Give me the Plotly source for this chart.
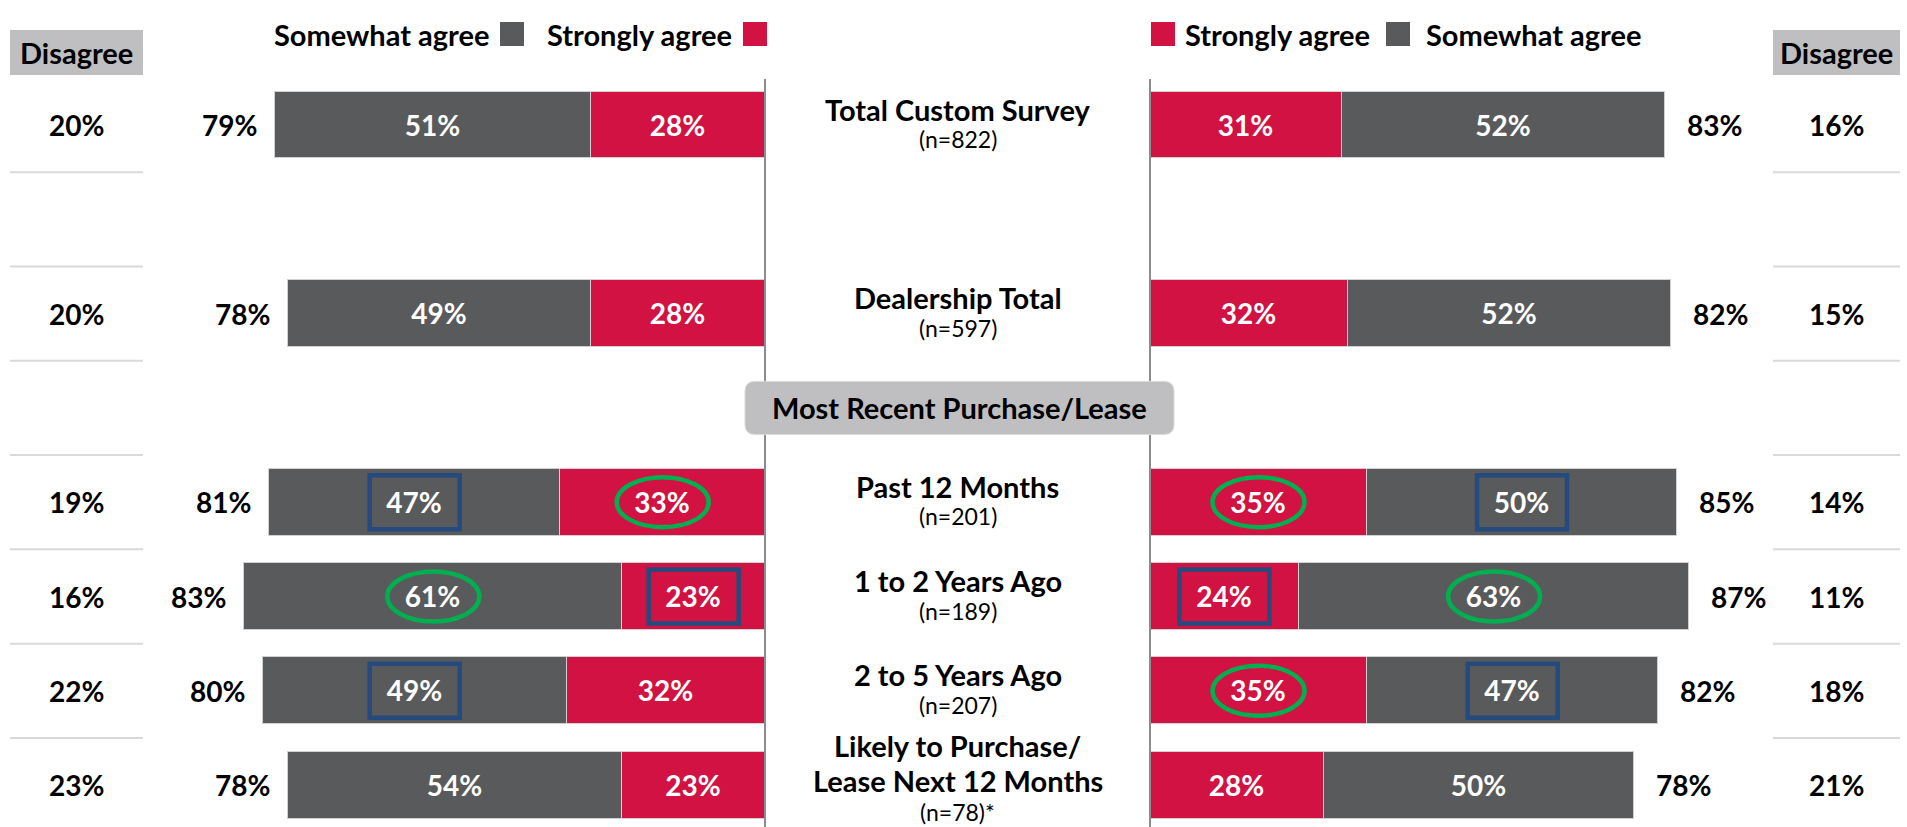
import plotly.graph_objects as go

W, H = 1907, 827

# ---------------- data ----------------
categories = ["Total Custom Survey", "Dealership Total", "Past 12 Months",
              "1 to 2 Years Ago", "2 to 5 Years Ago",
              "Likely to Purchase/<br>Lease Next 12 Months"]
sample_sizes = ["(n=822)", "(n=597)", "(n=201)", "(n=189)", "(n=207)", "(n=78)*"]

left_somewhat = [51, 49, 47, 61, 49, 54]
left_strongly = [28, 28, 33, 23, 32, 23]
left_total = [79, 78, 81, 83, 80, 78]
left_disagree = [20, 20, 19, 16, 22, 23]

right_strongly = [31, 32, 35, 24, 35, 28]
right_somewhat = [52, 52, 50, 63, 47, 50]
right_total = [83, 82, 85, 87, 82, 78]
right_disagree = [16, 15, 14, 11, 18, 21]

left_marks_somewhat = ["", "", "box", "ellipse", "box", ""]
left_marks_strongly = ["", "", "ellipse", "box", "", ""]
right_marks_strongly = ["", "", "ellipse", "box", "ellipse", ""]
right_marks_somewhat = ["", "", "box", "ellipse", "box", ""]

section_label = "Most Recent Purchase/Lease"
legend_somewhat = "Somewhat agree"
legend_strongly = "Strongly agree"
disagree_label = "Disagree"

# ---------------- layout helpers ----------------
row_slots = [0, 2, 4, 5, 6, 7]
section_slot = 3
SLOT_PX = 94.3
SLOT0_PX = 125
PX_PER_PCT = 6.2
LEFT_EDGE = 765
RIGHT_EDGE = 1150

GRAY = "#595A5C"
RED = "#D11242"
GREEN = "#00B050"
BLUE = "#244A7E"
HEAD_GRAY = "#BFBFC1"
SEP = "#D9D9D9"
FONT = "Lato"

def px(x):
    return x / W

def py(y):
    return 1 - y / H

y_top = -SLOT0_PX / SLOT_PX
y_bot = (H - SLOT0_PX) / SLOT_PX

fig = go.Figure()

bar_common = dict(orientation="h", width=0.71, textposition="inside",
                  insidetextanchor="middle", textangle=0, texttemplate="%{x}%",
                  textfont=dict(family=FONT, size=28, color="white", weight="bold"),
                  marker_line=dict(color="#D0D0D0", width=1), hoverinfo="skip",
                  showlegend=False, cliponaxis=False)

fig.add_trace(go.Bar(x=left_strongly, y=row_slots, marker_color=RED,
                     xaxis="x", yaxis="y", **bar_common))
fig.add_trace(go.Bar(x=left_somewhat, y=row_slots, marker_color=GRAY,
                     xaxis="x", yaxis="y", **bar_common))
fig.add_trace(go.Bar(x=right_strongly, y=row_slots, marker_color=RED,
                     xaxis="x2", yaxis="y", **bar_common))
fig.add_trace(go.Bar(x=right_somewhat, y=row_slots, marker_color=GRAY,
                     xaxis="x2", yaxis="y", **bar_common))

annotations = []
shapes = []

pct_font = dict(family=FONT, size=28, color="black", weight="bold")
cat_font = dict(family=FONT, size=29, color="black", weight="bold")
CENTER_X = px((LEFT_EDGE + RIGHT_EDGE) / 2)

for i, s in enumerate(row_slots):
    # totals next to bars
    annotations.append(dict(x=left_strongly[i] + left_somewhat[i], y=s, xref="x", yref="y",
                            text=f"{left_total[i]}%", xanchor="right", yanchor="middle",
                            xshift=-16, showarrow=False, font=pct_font))
    annotations.append(dict(x=right_strongly[i] + right_somewhat[i], y=s, xref="x2", yref="y",
                            text=f"{right_total[i]}%", xanchor="left", yanchor="middle",
                            xshift=20, showarrow=False, font=pct_font))
    # disagree columns
    annotations.append(dict(x=px(76), y=s, xref="paper", yref="y",
                            text=f"{left_disagree[i]}%", xanchor="center", yanchor="middle",
                            showarrow=False, font=pct_font))
    annotations.append(dict(x=px(1836), y=s, xref="paper", yref="y",
                            text=f"{right_disagree[i]}%", xanchor="center", yanchor="middle",
                            showarrow=False, font=pct_font))
    # center labels (each line placed separately)
    lines = categories[i].split("<br>")
    n = len(lines)
    if n == 1:
        centers, n_shift = [-16], 14
    else:
        centers, n_shift = [-40 + 35 * j for j in range(n)], 27
    for line, c in zip(lines, centers):
        annotations.append(dict(x=CENTER_X, y=s, xref="paper", yref="y",
                                text=line, xanchor="center", yanchor="middle",
                                yshift=-c, showarrow=False, font=cat_font))
    annotations.append(dict(x=CENTER_X, y=s, xref="paper", yref="y",
                            text=sample_sizes[i], xanchor="center", yanchor="middle",
                            yshift=-n_shift, showarrow=False,
                            font=dict(family=FONT, size=23, color="black")))

# separator lines in disagree columns
sep_positions = sorted(set([s + 0.5 for s in row_slots[:-1]] + [s - 0.5 for s in row_slots[1:]]))
for yv in sep_positions:
    for (a, b) in [(10, 143), (1773, 1900)]:
        shapes.append(dict(type="line", xref="paper", yref="y", x0=px(a), x1=px(b),
                           y0=yv, y1=yv, line=dict(color=SEP, width=2), layer="below"))

# vertical dividers
for xe in [LEFT_EDGE, RIGHT_EDGE]:
    shapes.append(dict(type="line", xref="paper", yref="paper", x0=px(xe), x1=px(xe),
                       y0=py(79), y1=0, line=dict(color="#8C8C8C", width=2), layer="above"))

# highlight marks
def add_mark(kind, xref, xc, yc):
    if not kind:
        return
    if kind == "box":
        shapes.append(dict(type="rect", xref=xref, yref="y", xsizemode="pixel", ysizemode="pixel",
                           xanchor=xc, yanchor=yc, x0=-45, x1=45, y0=-27, y1=27,
                           line=dict(color=BLUE, width=4.5), layer="above"))
    else:
        shapes.append(dict(type="circle", xref=xref, yref="y", xsizemode="pixel", ysizemode="pixel",
                           xanchor=xc, yanchor=yc, x0=-46, x1=46, y0=-25, y1=25,
                           line=dict(color=GREEN, width=4.5), layer="above"))

for i, s in enumerate(row_slots):
    add_mark(left_marks_strongly[i], "x", left_strongly[i] / 2, s)
    add_mark(left_marks_somewhat[i], "x", left_strongly[i] + left_somewhat[i] / 2, s)
    add_mark(right_marks_strongly[i], "x2", right_strongly[i] / 2, s)
    add_mark(right_marks_somewhat[i], "x2", right_strongly[i] + right_somewhat[i] / 2, s)

# section header box (rounded)
bw, bh, r = 429 / 2, 53 / 2, 10
path = (f"M {-bw + r},{-bh} L {bw - r},{-bh} Q {bw},{-bh} {bw},{-bh + r} "
        f"L {bw},{bh - r} Q {bw},{bh} {bw - r},{bh} L {-bw + r},{bh} "
        f"Q {-bw},{bh} {-bw},{bh - r} L {-bw},{-bh + r} Q {-bw},{-bh} {-bw + r},{-bh} Z")
shapes.append(dict(type="path", xref="paper", yref="y", xsizemode="pixel", ysizemode="pixel",
                   xanchor=px(959.5), yanchor=section_slot, path=path,
                   fillcolor=HEAD_GRAY, line=dict(color="#D9D9D9", width=1), layer="above"))
annotations.append(dict(x=px(959.5), y=section_slot, xref="paper", yref="y",
                        text=section_label, xanchor="center", yanchor="middle", showarrow=False,
                        font=cat_font))

# disagree headers
for (a, b) in [(10, 143), (1773, 1900)]:
    shapes.append(dict(type="rect", xref="paper", yref="paper", x0=px(a), x1=px(b),
                       y0=py(75), y1=py(30), fillcolor=HEAD_GRAY, line=dict(width=0),
                       layer="below"))
    annotations.append(dict(x=px((a + b) / 2), y=py(52.5), xref="paper", yref="paper",
                            text=disagree_label, xanchor="center", yanchor="middle",
                            showarrow=False, font=cat_font))

# custom legends
leg_font = dict(family=FONT, size=29, color="black", weight="bold")
def square(x0, color):
    shapes.append(dict(type="rect", xref="paper", yref="paper", x0=px(x0), x1=px(x0 + 24),
                       y0=py(46), y1=py(22), fillcolor=color, line=dict(width=0)))

# left legend: text then swatch
square(500, GRAY)
annotations.append(dict(x=px(491), y=py(34), xref="paper", yref="paper", text=legend_somewhat,
                        xanchor="right", yanchor="middle", showarrow=False, font=leg_font))
square(743, RED)
annotations.append(dict(x=px(734), y=py(34), xref="paper", yref="paper", text=legend_strongly,
                        xanchor="right", yanchor="middle", showarrow=False, font=leg_font))
# right legend: swatch then text
square(1151, RED)
annotations.append(dict(x=px(1183), y=py(34), xref="paper", yref="paper", text=legend_strongly,
                        xanchor="left", yanchor="middle", showarrow=False, font=leg_font))
square(1386, GRAY)
annotations.append(dict(x=px(1424), y=py(34), xref="paper", yref="paper", text=legend_somewhat,
                        xanchor="left", yanchor="middle", showarrow=False, font=leg_font))

fig.update_layout(
    width=W, height=H,
    margin=dict(l=0, r=0, t=0, b=0),
    paper_bgcolor="white", plot_bgcolor="white",
    barmode="stack", bargap=0,
    showlegend=False,
    xaxis=dict(domain=[0, px(LEFT_EDGE)], range=[LEFT_EDGE / PX_PER_PCT, 0],
               visible=False, fixedrange=True),
    xaxis2=dict(domain=[px(RIGHT_EDGE), 1], range=[0, (W - RIGHT_EDGE) / PX_PER_PCT],
                visible=False, fixedrange=True, anchor="y"),
    yaxis=dict(domain=[0, 1], range=[y_bot, y_top], visible=False, fixedrange=True),
    annotations=annotations,
    shapes=shapes,
)

fig.write_html("out.html", config={"displayModeBar": False},
               post_script="document.body.style.margin='0';document.body.style.overflow='hidden';")
